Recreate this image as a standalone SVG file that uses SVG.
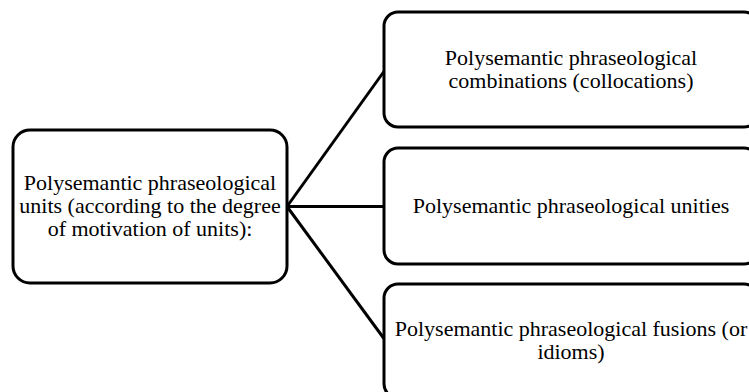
<svg xmlns="http://www.w3.org/2000/svg" width="749" height="392" viewBox="0 0 749 392">
<style>
.box{fill:#fff;stroke:#000;stroke-width:3}
.t{font-family:'Liberation Serif','Tinos','Times New Roman',Times,'DejaVu Serif',serif;font-size:22px;fill:#000;text-anchor:middle}
.c{stroke:#000;stroke-width:3;fill:none}
</style>
<rect width="749" height="392" fill="#fff"/>
<g id="connectors">
<line class="c" x1="287" y1="206.5" x2="385" y2="70"/>
<line class="c" x1="287" y1="206.5" x2="385" y2="206.5"/>
<line class="c" x1="287" y1="206.5" x2="385" y2="340"/>
</g>
<g id="root">
<rect class="box" x="13" y="130" width="274" height="153" rx="17"/>
<text class="t" x="150" y="190">Polysemantic phraseological</text>
<text class="t" x="150" y="213">units (according to the degree</text>
<text class="t" x="150" y="236">of motivation of units):</text>
</g>
<g id="collocations">
<rect class="box" x="384" y="12" width="374" height="115" rx="14"/>
<text class="t" x="571" y="65">Polysemantic phraseological</text>
<text class="t" x="571" y="88">combinations (collocations)</text>
</g>
<g id="unities">
<rect class="box" x="384" y="148" width="374" height="116" rx="14"/>
<text class="t" x="571" y="213">Polysemantic phraseological unities</text>
</g>
<g id="fusions">
<rect class="box" x="384" y="284" width="374" height="114" rx="14"/>
<text class="t" x="571" y="336">Polysemantic phraseological fusions (or</text>
<text class="t" x="571" y="359">idioms)</text>
</g>
</svg>
